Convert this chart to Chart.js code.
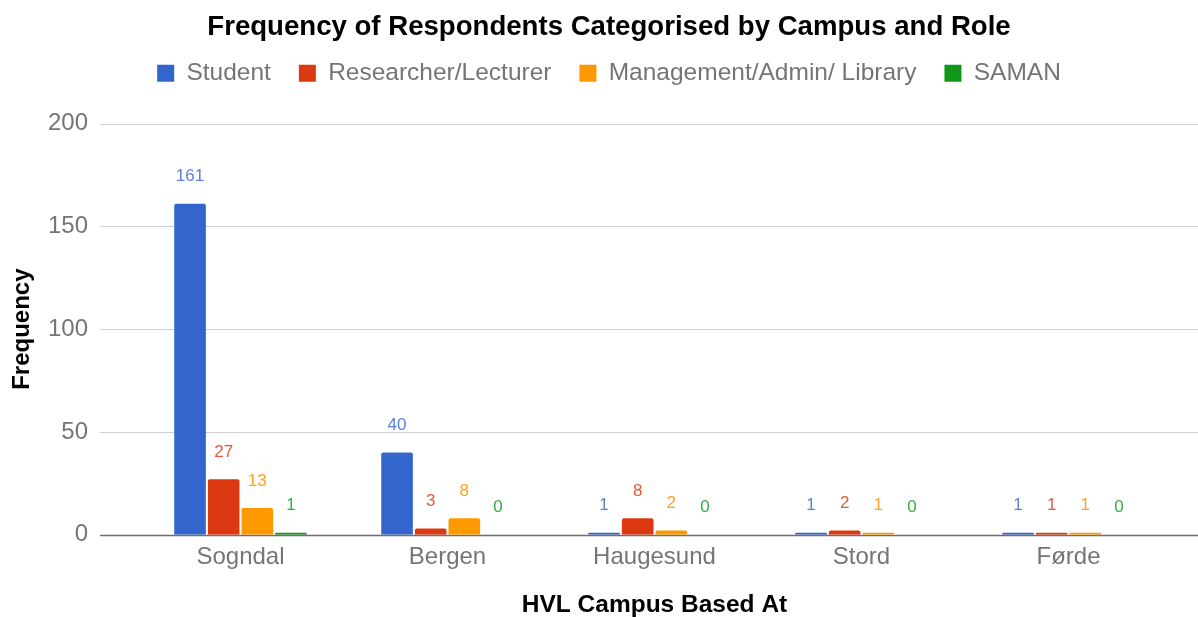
<!DOCTYPE html>
<html>
<head>
<meta charset="utf-8">
<script src="https://cdn.jsdelivr.net/npm/chart.js@4.4.0/dist/chart.umd.min.js"></script>
<style>
  html, body { margin: 0; padding: 0; background: #fff; }
  #wrap { width: 1198px; height: 617px; }
</style>
</head>
<body>
<div id="wrap"><canvas id="chart" width="1198" height="617"></canvas></div>
<script>
const campuses = ['Sogndal', 'Bergen', 'Haugesund', 'Stord', 'Førde'];
const student = [161, 40, 1, 1, 1];
const researcher = [27, 3, 8, 2, 1];
const management = [13, 8, 2, 1, 1];
const saman = [1, 0, 0, 0, 0];
const yTicks = [0, 50, 100, 150, 200];

const FONT = '"Liberation Sans", Arial, sans-serif';

// horizontal gridlines run wider than the bar area
const gridPlugin = {
  id: 'grid',
  beforeDatasetsDraw(chart) {
    const ctx = chart.ctx;
    const y = chart.scales.y;
    ctx.save();
    yTicks.forEach(v => {
      const py = Math.round(y.getPixelForValue(v)) + 0.5;
      ctx.strokeStyle = v === 0 ? '#6e6e6e' : '#cfcfcf';
      ctx.lineWidth = v === 0 ? 1.5 : 1.2;
      ctx.beginPath();
      ctx.moveTo(100, py);
      ctx.lineTo(chart.width, py);
      ctx.stroke();
    });
    ctx.restore();
  }
};

// value labels above each bar
const labelPlugin = {
  id: 'valueLabels',
  afterDatasetsDraw(chart) {
    const ctx = chart.ctx;
    ctx.save();
    ctx.font = '17px ' + FONT;
    ctx.textAlign = 'center';
    ctx.textBaseline = 'middle';
    chart.data.datasets.forEach((ds, i) => {
      const meta = chart.getDatasetMeta(i);
      meta.data.forEach((bar, j) => {
        ctx.fillStyle = ds.labelColor;
        ctx.fillText(String(ds.data[j]), bar.x, bar.y - 27);
      });
    });
    ctx.restore();
  }
};

// extra room under the legend
const legendGap = {
  id: 'legendGap',
  beforeInit(chart) {
    const fit = chart.legend.fit;
    chart.legend.fit = function () {
      fit.bind(chart.legend)();
      this.height += 28;
    };
  }
};

new Chart(document.getElementById('chart'), {
  type: 'bar',
  data: {
    labels: campuses,
    datasets: [
      { label: 'Student', data: student, backgroundColor: '#3366cc', labelColor: '#5a82d6' },
      { label: 'Researcher/Lecturer', data: researcher, backgroundColor: '#dc3912', labelColor: '#e35b3a' },
      { label: 'Management/Admin/ Library', data: management, backgroundColor: '#ff9900', labelColor: '#ffa31f' },
      { label: 'SAMAN', data: saman, backgroundColor: '#109618', labelColor: '#3aab40' }
    ].map(d => Object.assign(d, {
      categoryPercentage: 0.65,
      barPercentage: 0.94,
      borderRadius: 2,
      borderSkipped: 'bottom'
    }))
  },
  options: {
    responsive: false,
    animation: false,
    layout: { padding: { top: 0, right: 0, bottom: 0, left: 20 } },
    plugins: {
      title: {
        display: true,
        text: 'Frequency of Respondents Categorised by Campus and Role',
        color: '#000',
        font: { family: FONT, size: 27.6, weight: 'bold' },
        padding: { top: 11, bottom: -11 }
      },
      legend: {
        position: 'top',
        labels: {
          color: '#757575',
          font: { family: FONT, size: 24.5 },
          boxWidth: 17,
          boxHeight: 17,
          padding: 28
        }
      },
      tooltip: { enabled: false }
    },
    scales: {
      x: {
        grid: { display: false, drawTicks: false },
        border: { display: false },
        ticks: { color: '#757575', font: { family: FONT, size: 24 }, padding: 8 },
        title: {
          display: true,
          text: 'HVL Campus Based At',
          color: '#000',
          font: { family: FONT, size: 24.5, weight: 'bold', lineHeight: 1 },
          padding: { top: 13, bottom: 0 }
        }
      },
      y: {
        min: 0,
        max: 200,
        afterBuildTicks(scale) { scale.ticks = yTicks.map(v => ({ value: v })); },
        afterFit(scale) { scale.width = 117; },
        grid: { display: false, drawTicks: false },
        border: { display: false },
        ticks: { color: '#757575', font: { family: FONT, size: 24 }, padding: 49 },
        title: {
          display: true,
          text: 'Frequency',
          color: '#000',
          font: { family: FONT, size: 24, weight: 'bold', lineHeight: 1 },
          padding: { top: -10, bottom: 0 }
        }
      },
      // empty right-hand axis that only reserves space
      yRight: {
        position: 'right',
        display: true,
        afterFit(scale) { scale.width = 26; },
        grid: { display: false, drawTicks: false },
        border: { display: false },
        ticks: { display: false }
      }
    }
  },
  plugins: [gridPlugin, labelPlugin, legendGap]
});
</script>
</body>
</html>
